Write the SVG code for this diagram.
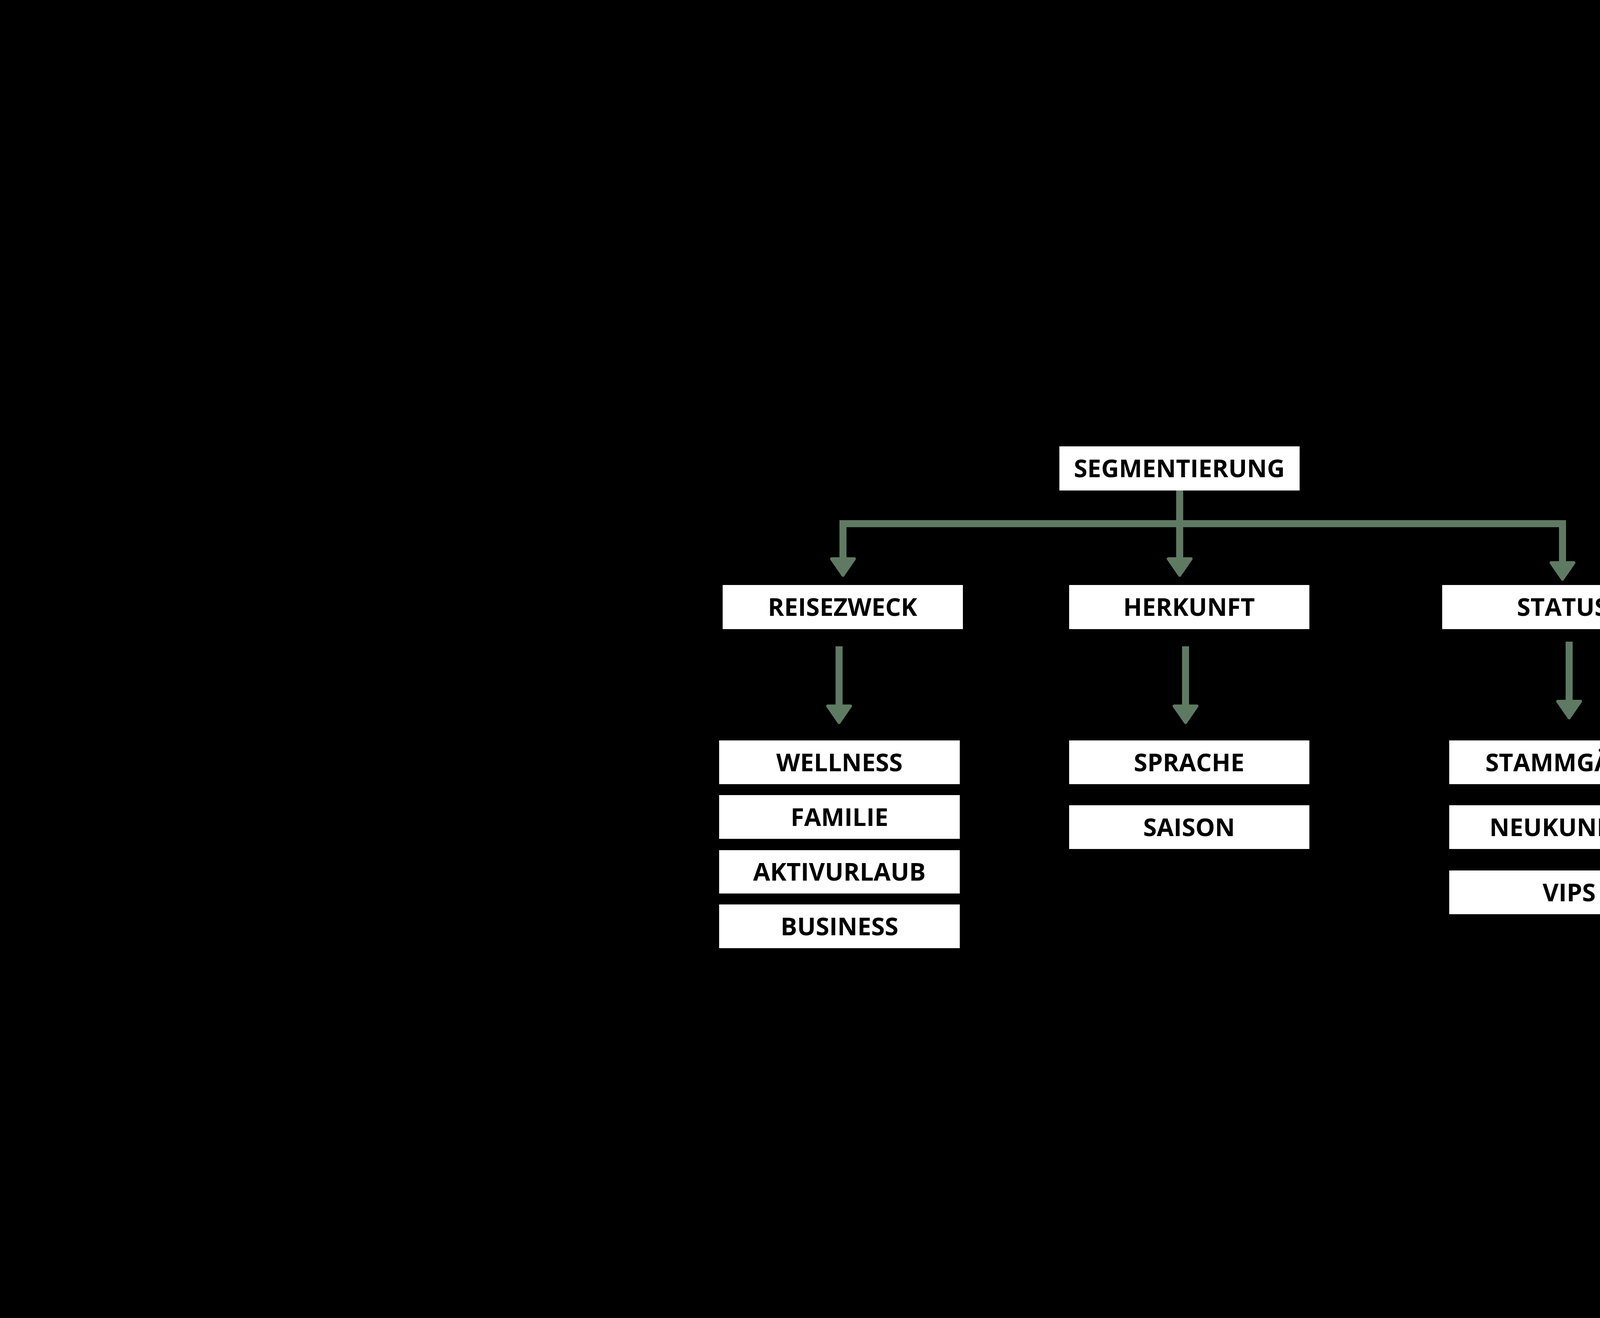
<svg xmlns="http://www.w3.org/2000/svg" width="6000" height="3375" viewBox="0 0 6000 3375">
<style>
.box{fill:#ffffff}
.t{font-family:"Open Sans","Liberation Sans",sans-serif;font-weight:700;font-size:63px;fill:#000000;text-anchor:middle}
.ln{stroke:#5f7a63;stroke-width:18;fill:none}
.ah{fill:#5f7a63;stroke:#5f7a63;stroke-width:8;stroke-linejoin:round}
</style>
<rect x="0" y="0" width="6000" height="3375" fill="#000000"/>
<g id="connectors">
<path class="ln" d="M3020 1256 V1341 M2158 1432 V1341 H4009 M3020 1341 V1432 M4000 1341 V1440"/>
<polygon class="ah" points="2129,1431 2187,1431 2158,1473"/>
<polygon class="ah" points="2991,1431 3049,1431 3020,1473"/>
<polygon class="ah" points="3971,1441 4029,1441 4000,1483"/>
<path class="ln" d="M2148 1655 V1810 M3035 1655 V1810 M4017 1643 V1798"/>
<polygon class="ah" points="2119,1808 2177,1808 2148,1850"/>
<polygon class="ah" points="3006,1808 3064,1808 3035,1850"/>
<polygon class="ah" points="3988,1796 4046,1796 4017,1838"/>
</g>
<g id="segmentierung"><rect class="box" x="2712" y="1143" width="615" height="113"/><text class="t" x="3019" y="1222">SEGMENTIERUNG</text></g>
<g id="reisezweck"><rect class="box" x="1850" y="1498" width="615" height="113"/><text class="t" x="2157" y="1577">REISEZWECK</text></g>
<g id="herkunft"><rect class="box" x="2737" y="1498" width="615" height="113"/><text class="t" x="3044" y="1577">HERKUNFT</text></g>
<g id="status"><rect class="box" x="3692" y="1498" width="615" height="113"/><text class="t" x="4000" y="1577">STATUS</text></g>
<g id="wellness"><rect class="box" x="1841" y="1896" width="616" height="112"/><text class="t" x="2149" y="1975">WELLNESS</text></g>
<g id="familie"><rect class="box" x="1841" y="2036" width="616" height="112"/><text class="t" x="2149" y="2115">FAMILIE</text></g>
<g id="aktivurlaub"><rect class="box" x="1841" y="2177" width="616" height="111"/><text class="t" x="2149" y="2255">AKTIVURLAUB</text></g>
<g id="business"><rect class="box" x="1841" y="2316" width="616" height="112"/><text class="t" x="2149" y="2395">BUSINESS</text></g>
<g id="sprache"><rect class="box" x="2737" y="1896" width="615" height="112"/><text class="t" x="3044" y="1975">SPRACHE</text></g>
<g id="saison"><rect class="box" x="2737" y="2062" width="615" height="112"/><text class="t" x="3044" y="2141">SAISON</text></g>
<g id="stammgaeste"><rect class="box" x="3710" y="1896" width="614" height="112"/><text class="t" x="4017" y="1975">STAMMGÄSTE</text></g>
<g id="neukunden"><rect class="box" x="3710" y="2062" width="614" height="112"/><text class="t" x="4017" y="2141">NEUKUNDEN</text></g>
<g id="vips"><rect class="box" x="3710" y="2229" width="614" height="112"/><text class="t" x="4017" y="2308">VIPS</text></g>
</svg>
